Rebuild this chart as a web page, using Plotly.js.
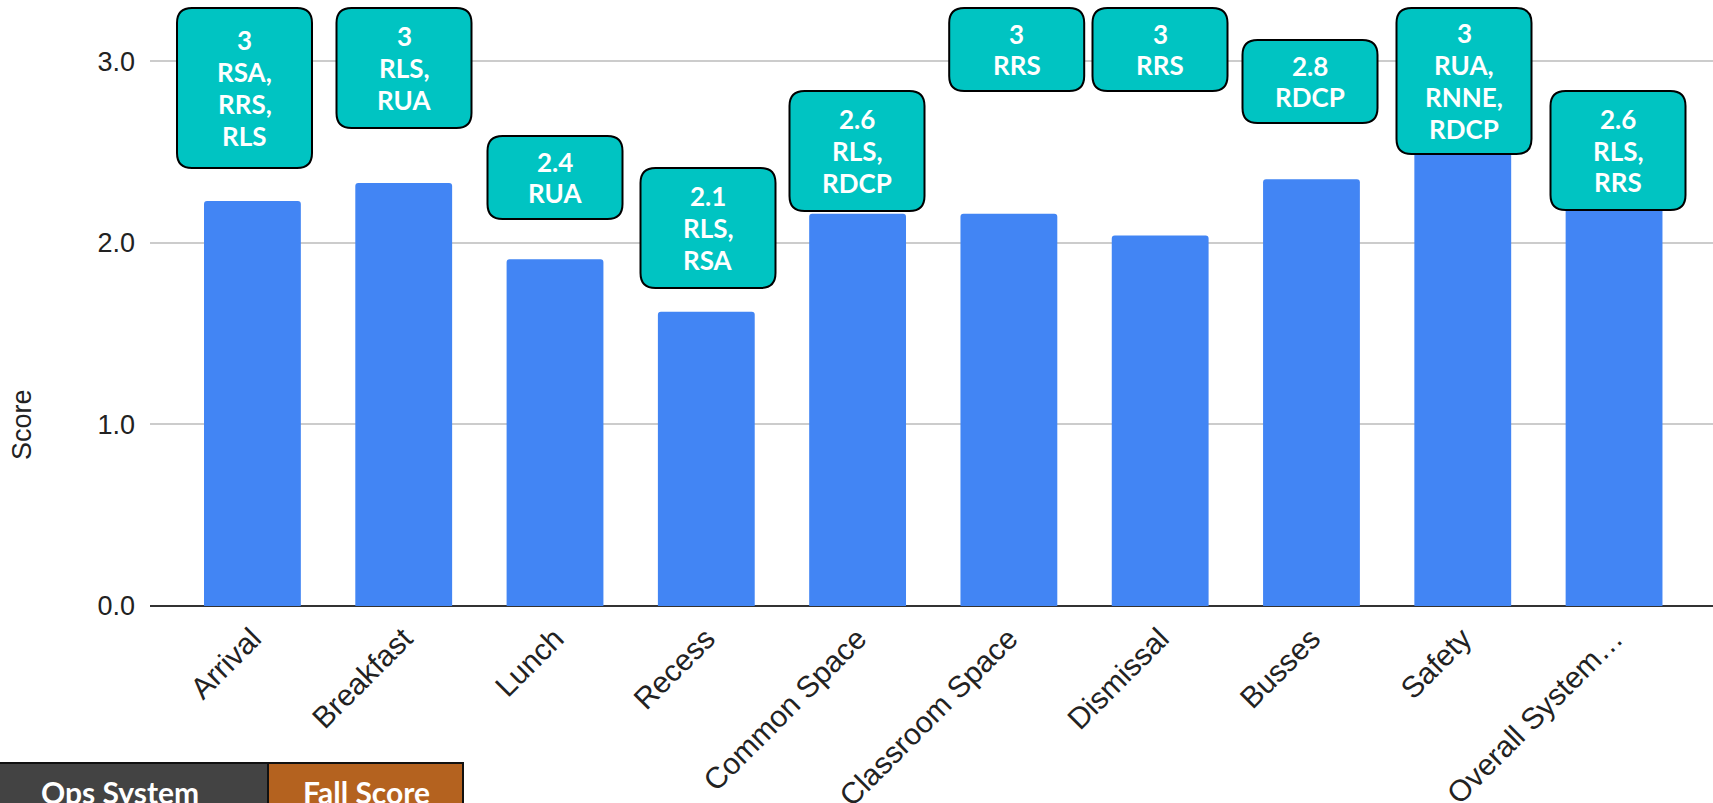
<!DOCTYPE html>
<html>
<head>
<meta charset="utf-8">
<script src="https://cdn.plot.ly/plotly-3.0.1.min.js"></script>
<style>
  html, body { margin: 0; padding: 0; background: #ffffff; }
  #chart { width: 1713px; height: 803px; }
</style>
</head>
<body>
<div id="chart"></div>
<script>
// ---- Data ----
const categories = ["Arrival", "Breakfast", "Lunch", "Recess", "Common Space", "Classroom Space", "Dismissal", "Busses", "Safety", "Overall System\u2026"];
const fallScores = [2.23, 2.33, 1.91, 1.62, 2.16, 2.16, 2.04, 2.35, 2.6, 2.2];
const calloutScores = ["3", "3", "2.4", "2.1", "2.6", "3", "3", "2.8", "3", "2.6"];
const calloutCodes = [
  ["RSA,", "RRS,", "RLS"],
  ["RLS,", "RUA"],
  ["RUA"],
  ["RLS,", "RSA"],
  ["RLS,", "RDCP"],
  ["RRS"],
  ["RRS"],
  ["RDCP"],
  ["RUA,", "RNNE,", "RDCP"],
  ["RLS,", "RRS"]
];
const yTickValues = [0, 1, 2, 3];
const yTickLabels = ["0.0", "1.0", "2.0", "3.0"];
const tableHeaders = ["Ops System", "Fall Score"];

// ---- Layout geometry (pixels) ----
const W = 1713, H = 803;
const M = { l: 150, r: 0, t: 0, b: 197 };
const PW = W - M.l - M.r, PH = H - M.t - M.b;
const px2x = X => (X - M.l) / PW;
const px2y = Y => (M.t + PH - Y) / PH;

// callout box placement: center x, top y, height (pixels)
const boxCX = [244.5, 404, 555, 708, 857, 1016.7, 1160, 1310, 1464, 1618];
const boxTop = [8, 8, 136, 168, 91, 8, 8, 40, 8, 91];
const boxH = [160, 120, 83, 120, 120, 83, 83, 83, 146, 119];
const boxW = 135, boxR = 15, lineGap = 31.7;

function roundRect(X0, Y0, X1, Y1, r) {
  const x0 = px2x(X0), x1 = px2x(X1), yt = px2y(Y0), yb = px2y(Y1);
  const rx = r / PW, ry = r / PH;
  return `M ${x0 + rx},${yt} L ${x1 - rx},${yt} Q ${x1},${yt} ${x1},${yt - ry} ` +
         `L ${x1},${yb + ry} Q ${x1},${yb} ${x1 - rx},${yb} L ${x0 + rx},${yb} ` +
         `Q ${x0},${yb} ${x0},${yb + ry} L ${x0},${yt - ry} Q ${x0},${yt} ${x0 + rx},${yt} Z`;
}

const shapes = [];
const annotations = [];
const calloutFont = { family: "Lato, 'Open Sans', sans-serif", size: 26, color: "#ffffff", weight: 700 };

categories.forEach((c, i) => {
  const X0 = boxCX[i] - boxW / 2, X1 = boxCX[i] + boxW / 2;
  const Y0 = boxTop[i], Y1 = boxTop[i] + boxH[i];
  shapes.push({
    type: "path", xref: "paper", yref: "paper", layer: "above",
    path: roundRect(X0, Y0, X1, Y1, boxR),
    fillcolor: "#00C4C2", line: { color: "#000000", width: 2 }
  });
  const lines = [calloutScores[i]].concat(calloutCodes[i]);
  const cy = (Y0 + Y1) / 2;
  lines.forEach((t, k) => {
    const ly = cy + (k - (lines.length - 1) / 2) * lineGap;
    annotations.push({
      xref: "paper", yref: "paper", x: px2x(boxCX[i]), y: px2y(ly),
      xanchor: "center", yanchor: "middle", showarrow: false,
      text: "<b>" + t + "</b>", font: calloutFont
    });
  });
});

// y-axis title
annotations.push({
  xref: "paper", yref: "paper", x: px2x(22), y: px2y(425),
  xanchor: "center", yanchor: "middle", showarrow: false, textangle: -90,
  text: "Score", font: { family: "'Liberation Sans', Arial, sans-serif", size: 27, color: "#222222" }
});

// bottom table fragment
const cellX = [[-30, 268], [268, 463]];
const cellFill = ["#434343", "#B4621F"];
const cellTextX = [120, 366];
tableHeaders.forEach((h, i) => {
  shapes.push({
    type: "rect", xref: "paper", yref: "paper", layer: "above",
    x0: px2x(cellX[i][0]), x1: px2x(cellX[i][1]), y0: px2y(763), y1: px2y(815),
    fillcolor: cellFill[i], line: { color: "#111111", width: 2 }
  });
  annotations.push({
    xref: "paper", yref: "paper", x: px2x(cellTextX[i]), y: px2y(792),
    xanchor: "center", yanchor: "middle", showarrow: false,
    text: "<b>" + h + "</b>", font: { family: "Lato, sans-serif", size: 30, color: "#ffffff", weight: 700 }
  });
});

const trace = {
  type: "bar",
  x: categories.map((c, i) => i),
  y: fallScores,
  marker: { color: "#4285F4", cornerradius: 3 },
  hoverinfo: "x+y"
};

const layout = {
  width: W, height: H,
  margin: M,
  paper_bgcolor: "#ffffff", plot_bgcolor: "#ffffff",
  showlegend: false,
  bargap: 0.36,
  xaxis: {
    type: "linear",
    range: [-0.677, 9.654],
    tickmode: "array",
    tickvals: categories.map((c, i) => i),
    ticktext: categories,
    tickangle: -45,
    showgrid: false, zeroline: false, showline: false, ticks: "",
    ticklabelstandoff: 8,
    tickfont: { family: "'Liberation Sans', Arial, sans-serif", size: 30, color: "#222222" },
    fixedrange: true
  },
  yaxis: {
    range: [0, PH / 181.57],
    tickmode: "array",
    tickvals: yTickValues,
    ticktext: yTickLabels,
    showgrid: true, gridcolor: "#cccccc", gridwidth: 2,
    zeroline: true, zerolinecolor: "#333333", zerolinewidth: 2,
    showline: false, ticks: "",
    ticklabelstandoff: 14,
    tickfont: { family: "'Liberation Sans', Arial, sans-serif", size: 27, color: "#222222" },
    fixedrange: true
  },
  shapes: shapes,
  annotations: annotations
};

Plotly.newPlot("chart", [trace], layout, { displayModeBar: false, staticPlot: true });
</script>
</body>
</html>
